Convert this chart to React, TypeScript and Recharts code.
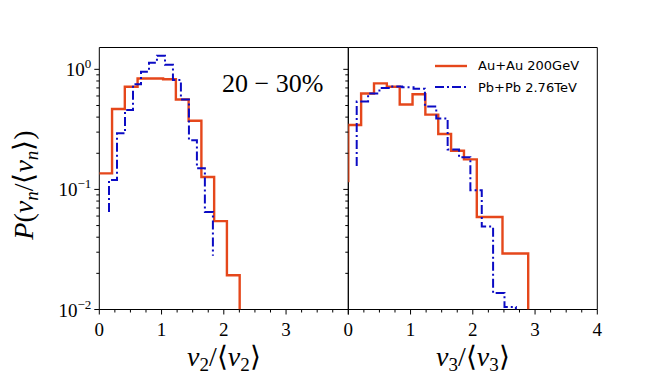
import React from 'react';
import { LineChart, Line, XAxis, YAxis, ReferenceArea, Legend } from 'recharts';

const v2AuEdges = [0, 0.205, 0.41, 0.615, 0.82, 1.025, 1.23, 1.435, 1.64, 1.845, 2.05, 2.255];
const v2AuValues = [0.136, 0.467, 0.716, 0.84, 0.84, 0.826, 0.56, 0.373, 0.127, 0.0544, 0.0193];
const v2AuEnds = [0.136, 0.01];

const v2PbEdges = [0.156, 0.284, 0.413, 0.541, 0.67, 0.798, 0.926, 1.055, 1.183, 1.311, 1.44, 1.568, 1.696, 1.825];
const v2PbValues = [0.12, 0.293, 0.458, 0.75, 0.955, 1.135, 1.3, 1.09, 0.814, 0.562, 0.257, 0.15, 0.065];
const v2PbEnds = [0.065, 0.028];

const v3AuEdges = [0, 0.206, 0.413, 0.619, 0.826, 1.032, 1.238, 1.445, 1.651, 1.858, 2.064, 2.27, 2.477, 2.683, 2.89];
const v3AuValues = [0.344, 0.63, 0.764, 0.716, 0.51, 0.62, 0.42, 0.289, 0.21, 0.178, 0.059, 0.059, 0.0293, 0.0293];
const v3AuEnds = [0.115, 0.01];

const v3PbEdges = [0.135, 0.318, 0.5, 0.683, 0.865, 1.048, 1.231, 1.413, 1.596, 1.779, 1.961, 2.144, 2.326, 2.509, 2.692];
const v3PbValues = [0.54, 0.63, 0.7, 0.72, 0.71, 0.69, 0.49, 0.39, 0.215, 0.185, 0.0986, 0.049, 0.0137, 0.0105];
const v3PbEnds = [0.157, 0.01];

const xTicks = [0, 0.25, 0.5, 0.75, 1, 1.25, 1.5, 1.75, 2, 2.25, 2.5, 2.75, 3, 3.25, 3.5, 3.75, 4];
const leftXLabels = [0, 1, 2, 3];
const rightXLabels = [0, 1, 2, 3, 4];
const yTicks = [
  0.01, 0.02, 0.03, 0.04, 0.05, 0.06, 0.07, 0.08, 0.09,
  0.1, 0.2, 0.3, 0.4, 0.5, 0.6, 0.7, 0.8, 0.9, 1,
];
const yDomain = [0.01, 1.52];

const RED = '#e5471b';
const BLUE = '#0b0bc4';
const DASHDOT = '9 3 2 3';
const SERIF = 'Liberation Serif';

const series = [
  { name: 'Au+Au 200GeV', color: RED, dash: undefined as string | undefined, width: 2.4 },
  { name: 'Pb+Pb 2.76TeV', color: BLUE, dash: DASHDOT, width: 2 },
];

// histogram outline as points for a stepAfter line
function stepPoints(edges: number[], values: number[], ends: number[]) {
  const pts = [{ x: edges[0], y: ends[0] }];
  values.forEach((v, i) => pts.push({ x: edges[i], y: v }));
  pts.push({ x: edges[edges.length - 1], y: ends[1] });
  return pts;
}

function XTick(props: any) {
  const { x, y, payload, labels } = props;
  const v = payload.value;
  const major = Number.isInteger(v);
  return (
    <g>
      <line x1={x} x2={x} y1={y} y2={y + (major ? 5 : 3)} stroke="#000" strokeWidth={1} />
      {major && labels.includes(v) && (
        <text x={x} y={y + 26} textAnchor="middle" fontSize={19} style={{ fontFamily: SERIF }} fill="#000">
          {v}
        </text>
      )}
    </g>
  );
}

function YTick(props: any) {
  const { x, y, payload, showLabel } = props;
  const v = payload.value;
  const exp = Math.round(Math.log10(v));
  const major = Math.abs(v - Math.pow(10, exp)) < 1e-9;
  return (
    <g>
      <line x1={x} x2={x - (major ? 5 : 3)} y1={y} y2={y} stroke="#000" strokeWidth={1} />
      {major && showLabel && (
        <text x={x - 8} y={y + 7} textAnchor="end" fontSize={19} style={{ fontFamily: SERIF }} fill="#000">
          10
          <tspan dy={-8} fontSize={13}>{exp === 0 ? '0' : '\u2212' + Math.abs(exp)}</tspan>
        </text>
      )}
    </g>
  );
}

function XTitle(props: any) {
  const { viewBox, n } = props;
  const cx = viewBox.x + viewBox.width / 2;
  return (
    <text x={cx} y={366} textAnchor="middle" fontSize={28} style={{ fontFamily: SERIF }} fill="#000">
      <tspan fontStyle="italic">v</tspan>
      <tspan fontSize={19} dy={5}>{n}</tspan>
      <tspan dy={-5}>/⟨</tspan>
      <tspan fontStyle="italic">v</tspan>
      <tspan fontSize={19} dy={5}>{n}</tspan>
      <tspan dy={-5}>⟩</tspan>
    </text>
  );
}

function YTitle() {
  return (
    <text
      x={0}
      y={0}
      transform="translate(33,185) rotate(-90)"
      textAnchor="middle"
      fontSize={28}
      style={{ fontFamily: SERIF }}
      fill="#000"
    >
      <tspan fontStyle="italic">P</tspan>
      <tspan>(</tspan>
      <tspan fontStyle="italic">v</tspan>
      <tspan fontSize={19} fontStyle="italic" dy={5}>n</tspan>
      <tspan dy={-5}>/⟨</tspan>
      <tspan fontStyle="italic">v</tspan>
      <tspan fontSize={19} fontStyle="italic" dy={5}>n</tspan>
      <tspan dy={-5}>⟩)</tspan>
    </text>
  );
}

function LegendBox() {
  return (
    <div style={{ fontFamily: 'DejaVu Sans', fontSize: 13, color: '#000' }}>
      {series.map((s) => (
        <div key={s.name} style={{ display: 'flex', alignItems: 'center', height: 21.6 }}>
          <svg width={32} height={8}>
            <line x1={0} x2={32} y1={4} y2={4} stroke={s.color} strokeWidth={s.width} strokeDasharray={s.dash} />
          </svg>
          <span style={{ marginLeft: 11, whiteSpace: 'nowrap' }}>{s.name}</span>
        </div>
      ))}
    </div>
  );
}

const W = 664;
const H = 388;
const plotTop = 47.5;
const plotBottom = 309.5;
const leftX0 = 99.3;
const midX = 348.3;
const rightX1 = 597.3;
const axisH = 30;
const axisW = 50;

function Panel(props: {
  left: number;
  right: number;
  au: { x: number; y: number }[];
  pb: { x: number; y: number }[];
  xLabels: number[];
  n: number;
  showYLabels: boolean;
  legend?: boolean;
}) {
  const { left, right, au, pb, xLabels, n, showYLabels, legend } = props;
  return (
    <div style={{ position: 'absolute', left: 0, top: 0 }}>
      <LineChart
        width={W}
        height={H}
        margin={{ top: plotTop, right: W - right, bottom: H - plotBottom - axisH, left: left - axisW }}
      >
        <XAxis
          dataKey="x"
          type="number"
          domain={[0, 4]}
          ticks={xTicks}
          interval={0}
          height={axisH}
          axisLine={false}
          tickLine={false}
          tickSize={0}
          tickMargin={0}
          tick={<XTick labels={xLabels} />}
          label={<XTitle n={n} />}
          allowDataOverflow
        />
        <YAxis
          dataKey="y"
          type="number"
          scale="log"
          domain={yDomain}
          ticks={yTicks}
          interval={0}
          width={axisW}
          axisLine={false}
          tickLine={false}
          tickSize={0}
          tickMargin={0}
          tick={<YTick showLabel={showYLabels} />}
          label={showYLabels ? <YTitle /> : undefined}
          allowDataOverflow
        />
        <ReferenceArea x1={0} x2={4} y1={yDomain[0]} y2={yDomain[1]} fill="none" stroke="#000" strokeWidth={1} />
        <Line
          data={au}
          dataKey="y"
          name={series[0].name}
          type="stepAfter"
          stroke={RED}
          strokeWidth={series[0].width}
          dot={false}
          isAnimationActive={false}
        />
        <Line
          data={pb}
          dataKey="y"
          name={series[1].name}
          type="stepAfter"
          stroke={BLUE}
          strokeWidth={series[1].width}
          strokeDasharray={DASHDOT}
          dot={false}
          isAnimationActive={false}
        />
        {legend && (
          <Legend
            layout="vertical"
            align="center"
            verticalAlign="middle"
            content={<LegendBox />}
            wrapperStyle={{ position: 'absolute', left: 435, top: 55, width: 170 }}
          />
        )}
      </LineChart>
    </div>
  );
}

export default function App() {
  return (
    <div style={{ position: 'absolute', left: 0, top: 0, width: W, height: H, background: '#fff' }}>
      <Panel
        left={leftX0}
        right={midX}
        au={stepPoints(v2AuEdges, v2AuValues, v2AuEnds)}
        pb={stepPoints(v2PbEdges, v2PbValues, v2PbEnds)}
        xLabels={leftXLabels}
        n={2}
        showYLabels
      />
      <Panel
        left={midX}
        right={rightX1}
        au={stepPoints(v3AuEdges, v3AuValues, v3AuEnds)}
        pb={stepPoints(v3PbEdges, v3PbValues, v3PbEnds)}
        xLabels={rightXLabels}
        n={3}
        showYLabels={false}
        legend
      />
      <svg width={W} height={H} style={{ position: 'absolute', left: 0, top: 0, pointerEvents: 'none' }}>
        <text x={222} y={92} fontSize={26} style={{ fontFamily: SERIF }} fill="#000">
          20 − 30%
        </text>
      </svg>
    </div>
  );
}
